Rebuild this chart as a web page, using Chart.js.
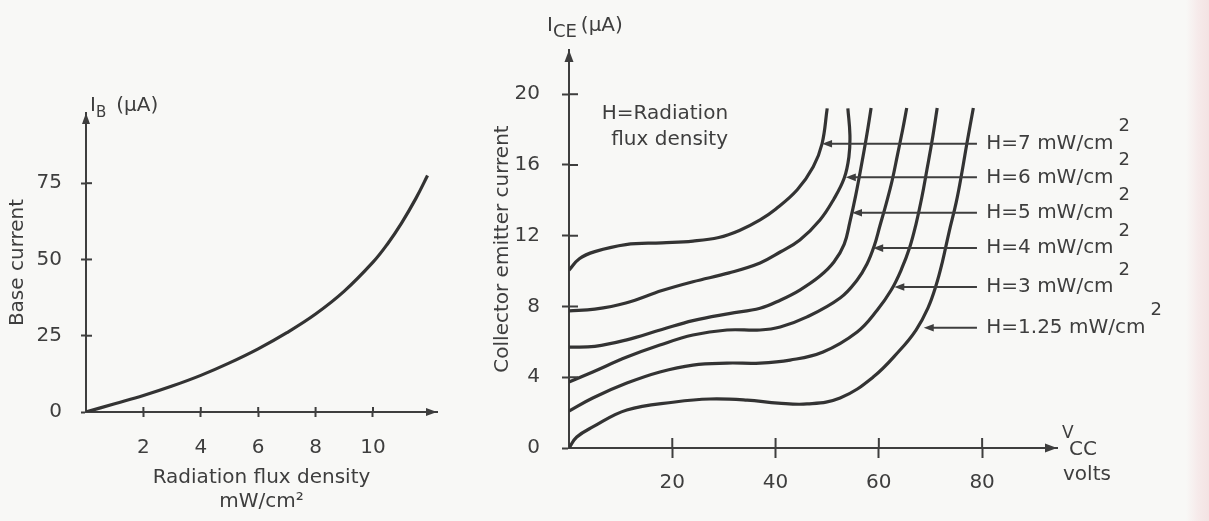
<!DOCTYPE html>
<html>
<head>
<meta charset="utf-8">
<script src="https://cdn.jsdelivr.net/npm/chart.js@4.4.1/dist/chart.umd.min.js"></script>
<style>
  html, body { margin: 0; padding: 0; }
  body {
    width: 1209px; height: 521px; overflow: hidden; position: relative;
    background: linear-gradient(to right, #f8f8f6 0px, #f8f8f6 1186px, #f6eaea 1198px, #f3e3e3 1209px);
  }
  #left { position: absolute; left: 0; top: 0; width: 480px; height: 521px; }
  #right { position: absolute; left: 480px; top: 0; width: 729px; height: 521px; }
</style>
</head>
<body>
<div id="left"><canvas id="baseChart"></canvas></div>
<div id="right"><canvas id="ceChart"></canvas></div>
<script>
// base current vs radiation flux density
var fluxDensity = [0, 1, 2, 3, 4, 5, 6, 7, 8, 9, 10, 10.5, 11, 11.5, 11.9];
var baseCurrent = [0, 2.7, 5.4, 8.5, 12, 16.1, 20.7, 26, 32.1, 39.6, 49.1, 55, 62, 70.1, 77.5];
var fluxTicks = [2, 4, 6, 8, 10];
var baseTicks = [0, 25, 50, 75];

// collector emitter current vs Vcc, one pair of arrays per H
var h7Vcc = [0, 2, 5, 11, 18, 24, 29, 33, 37, 40, 44.2, 47.3, 49, 50];
var h7Ice = [10.05, 10.7, 11.1, 11.5, 11.6, 11.7, 11.9, 12.3, 12.9, 13.5, 14.6, 15.9, 17.2, 19.2];
var h6Vcc = [0, 5, 11, 18, 24, 31, 37, 40.9, 44.7, 48.6, 51.3, 53.3, 54.2, 54.4, 54.0];
var h6Ice = [7.75, 7.85, 8.2, 8.9, 9.4, 9.9, 10.46, 11.08, 11.76, 12.89, 14.08, 15.26, 16.45, 17.69, 19.2];
var h5Vcc = [0, 5, 11, 18, 24, 31, 37, 41, 44.7, 48.6, 51.3, 53.3, 54.4, 55.5, 56.6, 57.6, 58.5];
var h5Ice = [5.7, 5.75, 6.1, 6.7, 7.2, 7.6, 7.9, 8.37, 8.93, 9.72, 10.51, 11.53, 12.78, 14.25, 15.94, 17.58, 19.22];
var h4Vcc = [0, 4.6, 11.2, 17.6, 24, 30.6, 37, 40.9, 46.1, 52.5, 55.8, 57.7, 59.1, 60.2, 61.4, 62.6, 63.6, 64.6, 65.4];
var h4Ice = [3.73, 4.3, 5.14, 5.82, 6.39, 6.67, 6.67, 6.84, 7.41, 8.48, 9.5, 10.4, 11.42, 12.55, 13.79, 15.15, 16.56, 17.98, 19.22];
var h3Vcc = [0, 4.6, 11.2, 17.6, 24, 30.6, 37, 42.8, 49.2, 55.8, 59.7, 62.4, 64.4, 66.0, 67.2, 68.3, 69.3, 70.3, 71.3];
var h3Ice = [2.09, 2.83, 3.67, 4.3, 4.69, 4.8, 4.8, 4.97, 5.43, 6.56, 7.8, 8.93, 10.12, 11.36, 12.66, 14.13, 15.72, 17.35, 19.22];
var h125Vcc = [0, 1.5, 4.6, 11.2, 20.5, 27.3, 34.5, 40.5, 46.1, 52.5, 58.9, 64.1, 67.2, 69.5, 71.1, 72.3, 73.6, 75.0, 76.1, 77.1, 78.3];
var h125Ice = [0, 0.62, 1.19, 2.15, 2.6, 2.77, 2.71, 2.54, 2.49, 2.83, 4.01, 5.54, 6.67, 7.91, 9.21, 10.51, 12.21, 13.91, 15.6, 17.3, 19.22];
var vccTicks = [20, 40, 60, 80];
var iceTicks = [0, 4, 8, 12, 16, 20];

// curve labels and where their arrows point
var hLabels = ['H=7 mW/cm', 'H=6 mW/cm', 'H=5 mW/cm', 'H=4 mW/cm', 'H=3 mW/cm', 'H=1.25 mW/cm'];
var arrowIce = [17.2, 15.3, 13.3, 11.3, 9.1, 6.8];
var arrowTipVcc = [49.0, 53.6, 54.8, 58.9, 63.0, 68.7];

var ink = '#3e3e3e';
var curveInk = '#333333';
var FONT = 'DejaVu Sans';

Chart.defaults.font.family = FONT;
Chart.defaults.color = ink;

function pairs(xs, ys) {
  return xs.map(function (x, i) { return { x: x, y: ys[i] }; });
}

function seg(ctx, x1, y1, x2, y2) {
  ctx.beginPath();
  ctx.moveTo(x1, y1);
  ctx.lineTo(x2, y2);
  ctx.stroke();
}

// filled arrow head, tip at (x,y) pointing along (dx,dy)
function tri(ctx, x, y, dx, dy, len, half) {
  var bx = x - dx * len, by = y - dy * len;
  ctx.beginPath();
  ctx.moveTo(x, y);
  ctx.lineTo(bx - dy * half, by + dx * half);
  ctx.lineTo(bx + dy * half, by - dx * half);
  ctx.closePath();
  ctx.fill();
}

// text with sub / superscripts
function runs(ctx, x, y, parts) {
  ctx.textAlign = 'left';
  ctx.textBaseline = 'middle';
  parts.forEach(function (p) {
    x += p.gap || 0;
    ctx.font = p.size + 'px "' + FONT + '"';
    ctx.fillText(p.text, x, y + (p.dy || 0));
    x += ctx.measureText(p.text).width;
  });
  return x;
}

function fixTicks(list) {
  return function (scale) {
    scale.ticks = list.map(function (v) { return { value: v }; });
  };
}

function curve(pts) {
  return {
    data: pts,
    showLine: true,
    borderColor: curveInk,
    borderWidth: 3.2,
    pointRadius: 0,
    tension: 0.4,
    fill: false
  };
}

var baseDecor = {
  id: 'baseDecor',
  afterDraw: function (chart) {
    var ctx = chart.ctx, a = chart.chartArea, xs = chart.scales.x, ys = chart.scales.y;
    ctx.save();
    ctx.strokeStyle = ink;
    ctx.fillStyle = ink;
    ctx.lineWidth = 2;
    xs.ticks.forEach(function (t) {
      var p = xs.getPixelForValue(t.value);
      seg(ctx, p, a.bottom, p, a.bottom - 5);
    });
    ys.ticks.forEach(function (t) {
      if (t.value === 0) return;
      var p = ys.getPixelForValue(t.value);
      seg(ctx, a.left, p, a.left + 6, p);
    });
    tri(ctx, a.left, a.top, 0, -1, 11, 4);
    tri(ctx, a.right, a.bottom, 1, 0, 11, 4);
    runs(ctx, a.left + 4, a.top - 7, [
      { text: 'I', size: 20 },
      { text: 'B', size: 15, dy: 7 },
      { text: '(\u00b5A)', size: 20, gap: 10 }
    ]);
    ctx.restore();
  }
};

var ceDecor = {
  id: 'ceDecor',
  afterDraw: function (chart) {
    var ctx = chart.ctx, a = chart.chartArea, xs = chart.scales.x, ys = chart.scales.y;
    ctx.save();
    ctx.strokeStyle = ink;
    ctx.fillStyle = ink;
    ctx.lineWidth = 2;
    xs.ticks.forEach(function (t) {
      var p = xs.getPixelForValue(t.value);
      seg(ctx, p, a.bottom, p, a.bottom - 10);
    });
    ys.ticks.forEach(function (t) {
      if (t.value === 0) return;
      var p = ys.getPixelForValue(t.value);
      seg(ctx, a.left, p, a.left + 9, p);
    });
    tri(ctx, a.left, a.top, 0, -1, 12, 4.5);
    tri(ctx, a.right, a.bottom, 1, 0, 12, 4.5);

    runs(ctx, a.left - 22, a.top - 24, [
      { text: 'I', size: 20 },
      { text: 'CE', size: 18, dy: 6 },
      { text: '(\u00b5A)', size: 20, gap: 4 }
    ]);
    runs(ctx, a.right + 5, a.bottom - 14, [{ text: 'V', size: 17 }]);
    runs(ctx, a.right + 12, a.bottom + 2, [{ text: 'CC', size: 20 }]);
    runs(ctx, a.right + 6, a.bottom + 27, [{ text: 'volts', size: 20 }]);

    ctx.font = '20px "' + FONT + '"';
    ctx.textAlign = 'right';
    ctx.textBaseline = 'middle';
    ctx.fillText('H=Radiation', xs.getPixelForValue(30.8), ys.getPixelForValue(18.9));
    ctx.fillText('flux density', xs.getPixelForValue(30.8), ys.getPixelForValue(17.4));

    var tailX = xs.getPixelForValue(79.0);
    var textX = xs.getPixelForValue(80.8);
    hLabels.forEach(function (lab, i) {
      var y = ys.getPixelForValue(arrowIce[i]);
      var tip = xs.getPixelForValue(arrowTipVcc[i]);
      seg(ctx, tailX, y, tip + 6, y);
      tri(ctx, tip, y, -1, 0, 10, 3.8);
      var end = runs(ctx, textX, y, [{ text: lab, size: 20 }]);
      runs(ctx, end + 5, y - 17, [{ text: '2', size: 18 }]);
    });
    ctx.restore();
  }
};

new Chart(document.getElementById('baseChart'), {
  type: 'scatter',
  data: { datasets: [curve(pairs(fluxDensity, baseCurrent))] },
  options: {
    responsive: true,
    maintainAspectRatio: false,
    animation: false,
    layout: { padding: { left: 0, right: 43, top: 113, bottom: 0 } },
    plugins: { legend: { display: false }, tooltip: { enabled: false } },
    scales: {
      x: {
        type: 'linear', min: 0, max: 12.23,
        afterBuildTicks: fixTicks(fluxTicks),
        afterFit: function (s) { s.height = 109; },
        grid: { drawOnChartArea: false, drawTicks: true, tickLength: 5, tickColor: ink, tickWidth: 2 },
        border: { display: true, color: ink, width: 2 },
        ticks: { padding: 19, font: { size: 20 }, color: ink, maxRotation: 0, autoSkip: false },
        title: {
          display: true, text: ['Radiation flux density', 'mW/cm\u00b2'], color: ink,
          font: { size: 20, lineHeight: 1.2 }, padding: { top: 0, bottom: 7 }
        }
      },
      y: {
        type: 'linear', min: 0, max: 98,
        afterBuildTicks: fixTicks(baseTicks),
        afterFit: function (s) { s.width = 86; },
        grid: { drawOnChartArea: false, drawTicks: true, tickLength: 5, tickColor: ink, tickWidth: 2 },
        border: { display: true, color: ink, width: 2 },
        ticks: { padding: 19, font: { size: 20 }, color: ink, autoSkip: false },
        title: { display: true, text: 'Base current', color: ink, font: { size: 20 }, padding: { top: 6, bottom: 0 } }
      }
    }
  },
  plugins: [baseDecor]
});

new Chart(document.getElementById('ceChart'), {
  type: 'scatter',
  data: {
    datasets: [
      curve(pairs(h7Vcc, h7Ice)),
      curve(pairs(h6Vcc, h6Ice)),
      curve(pairs(h5Vcc, h5Ice)),
      curve(pairs(h4Vcc, h4Ice)),
      curve(pairs(h3Vcc, h3Ice)),
      curve(pairs(h125Vcc, h125Ice))
    ]
  },
  options: {
    responsive: true,
    maintainAspectRatio: false,
    animation: false,
    layout: { padding: { left: 0, right: 152, top: 50, bottom: 0 } },
    plugins: { legend: { display: false }, tooltip: { enabled: false } },
    scales: {
      x: {
        type: 'linear', min: 0, max: 94.5,
        afterBuildTicks: fixTicks(vccTicks),
        afterFit: function (s) { s.height = 73; },
        grid: { drawOnChartArea: false, drawTicks: true, tickLength: 10, tickColor: ink, tickWidth: 2 },
        border: { display: true, color: ink, width: 2 },
        ticks: { padding: 13, font: { size: 20 }, color: ink, maxRotation: 0, autoSkip: false }
      },
      y: {
        type: 'linear', min: 0, max: 22.5,
        afterBuildTicks: fixTicks(iceTicks),
        afterFit: function (s) { s.width = 89; },
        grid: { drawOnChartArea: false, drawTicks: true, tickLength: 7, tickColor: ink, tickWidth: 2 },
        border: { display: true, color: ink, width: 2 },
        ticks: { padding: 22, font: { size: 20 }, color: ink, autoSkip: false },
        title: { display: true, text: 'Collector emitter current', color: ink, font: { size: 20 }, padding: { top: 11, bottom: 0 } }
      }
    }
  },
  plugins: [ceDecor]
});
</script>
</body>
</html>
